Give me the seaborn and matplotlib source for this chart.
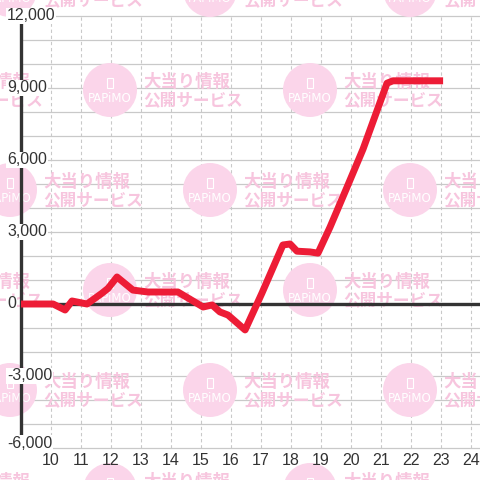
import matplotlib
matplotlib.use("Agg")
import matplotlib.pyplot as plt
from matplotlib.patches import Circle, Rectangle
import seaborn as sns

# data (hour of day -> balance)
hours = [9.0, 10.07, 10.47, 10.7, 11.2, 11.7, 11.9, 12.2, 12.73, 13.23, 14.23,
         15.07, 15.37, 15.63, 15.9, 16.47, 17.03, 17.5, 17.73, 17.97, 18.2,
         18.63, 18.9, 19.3, 19.87, 20.4, 21.2, 21.4, 23.07]
balance = [0, 0, -250, 125, 0, 450, 650, 1125, 580, 500, 500,
           -125, -40, -330, -460, -1080, 450, 1800, 2460, 2500, 2200,
           2170, 2120, 3200, 4875, 6450, 9200, 9300, 9300]

x_ticks = list(range(10, 25))
y_ticks = list(range(-6000, 12001, 3000))
y_grid = list(range(-6000, 12001, 1000))

sns.set_style("white")
plt.rcParams['font.family'] = ['Liberation Sans', 'Noto Sans CJK JP', 'DejaVu Sans']

fig = plt.figure(figsize=(4.8, 4.8), dpi=100)
ax = fig.add_axes([0, 0, 1, 1])
# 30 px per hour, 24 px per 1000, axis at px 21, zero at px 304
ax.set_xlim(9 - 21 / 30, 9 + 459 / 30)
ax.set_ylim((304 - 480) / 24 * 1000, 304 / 24 * 1000)
ax.set_axis_off()

x_right = 9 + 459 / 30
grid_c = '#c9c9c9'
ax.hlines(y_grid, 9, x_right, colors=grid_c, lw=0.9, zorder=1)
ax.vlines(x_ticks, -6000, 12000, colors=grid_c, lw=0.8,
          linestyles=(0, (3, 2.5)), zorder=1)

# watermark pattern
def px(x, y):
    return x / 480, 1 - y / 480

circle_c = '#fbd5ea'
text_c = '#f7c5de'
for k in range(6):
    cy = -10 + 100 * k
    off = 10 if k % 2 == 0 else 110
    for j in range(-1, 3):
        cx = off + 200 * j
        ax.add_patch(Circle(px(cx, cy), 27 / 480, transform=ax.transAxes,
                            color=circle_c, lw=0, zorder=2))
        ax.add_patch(Rectangle(px(cx - 3, cy - 2), 6 / 480, 10 / 480,
                               transform=ax.transAxes, fc='none', ec='white',
                               lw=0.8, zorder=2.1))
        ax.text(*px(cx, cy + 9), "PAPiMO", transform=ax.transAxes, color='white',
                fontsize=8.5, ha='center', va='center', family='DejaVu Sans',
                zorder=2.1)
        ax.text(*px(cx + 33, cy - 8), "大当り情報", transform=ax.transAxes,
                color=text_c, fontsize=12.5, fontweight='bold', ha='left',
                va='center', family=['Noto Sans CJK JP'], zorder=2)
        ax.text(*px(cx + 33, cy + 10), "公開サービス", transform=ax.transAxes,
                color=text_c, fontsize=12, fontweight='bold', ha='left',
                va='center', family=['Noto Sans CJK JP'], zorder=2)

axis_c = '#333333'
ax.hlines(0, 9, x_right, colors=axis_c, lw=2.4, zorder=3)
ax.vlines(9, -6000, 12000, colors=axis_c, lw=2.4, zorder=3)

sns.lineplot(x=hours, y=balance, color='#ed1c36', linewidth=5, ax=ax,
             zorder=4, solid_joinstyle='round', solid_capstyle='butt')

for v in y_ticks:
    yy = v if v > -6000 else -5800
    ax.text(7 / 480, yy, f"{v:,}", transform=ax.get_yaxis_transform(),
            ha='left', va='center', fontsize=11.5, color=axis_c, zorder=5,
            bbox=dict(fc='white', ec='none', pad=0.6))

for h in x_ticks:
    ax.text(h, -6540, str(h), ha='center', va='center', fontsize=11.5,
            color=axis_c, zorder=5)

fig.savefig("out.png", dpi=100)
